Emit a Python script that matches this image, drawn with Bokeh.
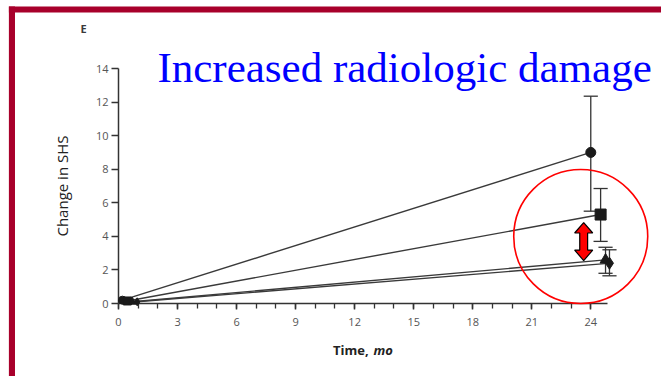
from bokeh.plotting import figure
from bokeh.models import ColumnDataSource, FixedTicker, Range1d
from bokeh.core.properties import value
from bokeh.embed import file_html
from bokeh.resources import INLINE

# ---------------- data ----------------
markers = ["circle", "square", "triangle", "diamond"]
marker_sizes = [10, 11, 11, 12]
start_month = [0.2, 0.45, 0.7, 0.95]
start_change = [0.2, 0.15, 0.1, 0.1]
end_month = [24.0, 24.5, 24.75, 24.95]
end_change = [9.0, 5.3, 2.6, 2.4]
end_lower = [5.5, 3.7, 1.8, 1.65]
end_upper = [12.35, 6.85, 3.35, 3.2]

x_ticks = [0, 3, 6, 9, 12, 15, 18, 21, 24]
x_minor = list(range(0, 25))
y_ticks = [0, 2, 4, 6, 8, 10, 12, 14]

title_text = "Increased radiologic damage"
panel_letter = "E"
y_label = "Change in SHS"
x_label_main = "Time,"
x_label_unit = "mo"

# annotation geometry (data units)
CAP_HALF = 0.36
RING_X, RING_Y, RING_R_PX = 23.49, 3.99, 67
ARROW_X, ARROW_TOP, ARROW_BOT = 23.64, 4.82, 2.56
ARROW_HEAD_HW, ARROW_SHAFT_HW, ARROW_HEAD_LEN = 0.46, 0.2, 0.62
TITLE_X, TITLE_Y = 1.98, 14.05
LETTER_X, LETTER_Y = -1.93, 16.4
XLAB_X, XLAB_Y = 12.71, -2.77
BORDER_L, BORDER_R = -5.57, -5.26
BORDER_B, BORDER_T, BORDER_T2 = -5.0, 17.69, 17.33

BORDER = "#A8002B"
INK = "#222222"
MARK = "#1a1a1a"
STEM = "#333333"

p = figure(width=661, height=376, output_backend="svg", toolbar_location=None,
           x_range=Range1d(0, 24.85), y_range=Range1d(0, 14),
           min_border_left=118, min_border_bottom=73, min_border_top=68,
           min_border_right=54)
p.outline_line_color = None
p.grid.visible = False
p.background_fill_color = "white"
p.border_fill_color = "white"

# axes
for ax in (p.xaxis, p.yaxis):
    ax.axis_line_color = "#333333"
    ax.axis_line_width = 1.5
    ax.major_tick_line_color = "#333333"
    ax.major_tick_line_width = 1.5
    ax.minor_tick_line_color = "#333333"
    ax.minor_tick_line_width = 1.3
    ax.major_tick_in = 0
    ax.minor_tick_in = 0
    ax.major_label_text_font = "Open Sans"
    ax.major_label_text_font_size = "11px"
    ax.major_label_text_color = "#555555"

p.xaxis.ticker = FixedTicker(ticks=x_ticks, minor_ticks=x_minor)
p.xaxis.major_tick_out = 6
p.xaxis.minor_tick_out = 5
p.xaxis.major_label_standoff = 8

p.yaxis.ticker = FixedTicker(ticks=y_ticks)
p.yaxis.major_tick_out = 7
p.yaxis.minor_tick_line_color = None
p.yaxis.major_label_standoff = 3
p.yaxis.axis_label = y_label
p.yaxis.axis_label_text_font = "Open Sans"
p.yaxis.axis_label_text_font_size = "15px"
p.yaxis.axis_label_text_font_style = "normal"
p.yaxis.axis_label_text_color = INK
p.yaxis.axis_label_standoff = 21

# connecting lines
p.segment(x0=start_month, y0=start_change, x1=end_month, y1=end_change,
          line_color="#3a3a3a", line_width=1.4)

# error bars (stem + caps), drawn unclipped
err = ColumnDataSource(dict(
    x=end_month, lo=end_lower, hi=end_upper,
    xl=[m - CAP_HALF for m in end_month], xr=[m + CAP_HALF for m in end_month]))
for r in (
    p.segment(x0="x", y0="lo", x1="x", y1="hi", source=err, line_color=STEM, line_width=1.3),
    p.segment(x0="xl", y0="hi", x1="xr", y1="hi", source=err, line_color=STEM, line_width=1.3),
    p.segment(x0="xl", y0="lo", x1="xr", y1="lo", source=err, line_color=STEM, line_width=1.3),
):
    r.level = "overlay"

# markers
src_end = ColumnDataSource(dict(x=end_month, y=end_change, m=markers, s=marker_sizes))
r_end = p.scatter(x="x", y="y", marker="m", size="s", source=src_end,
                  fill_color=MARK, line_color=MARK)
r_end.level = "overlay"
src_start = ColumnDataSource(dict(x=start_month, y=start_change, m=markers))
r_start = p.scatter(x="x", y="y", marker="m", size=8, source=src_start,
                    fill_color=MARK, line_color=MARK)
r_start.level = "overlay"

# red ring
ring = p.circle(x=[RING_X], y=[RING_Y], radius=RING_R_PX, radius_units="screen",
                fill_color=None, line_color="#FF0000", line_width=1.6)
ring.level = "overlay"

# double arrow
ax_ = ARROW_X
xs = [ax_, ax_ + ARROW_HEAD_HW, ax_ + ARROW_SHAFT_HW, ax_ + ARROW_SHAFT_HW,
      ax_ + ARROW_HEAD_HW, ax_, ax_ - ARROW_HEAD_HW, ax_ - ARROW_SHAFT_HW,
      ax_ - ARROW_SHAFT_HW, ax_ - ARROW_HEAD_HW]
ys = [ARROW_TOP, ARROW_TOP - ARROW_HEAD_LEN, ARROW_TOP - ARROW_HEAD_LEN,
      ARROW_BOT + ARROW_HEAD_LEN, ARROW_BOT + ARROW_HEAD_LEN, ARROW_BOT,
      ARROW_BOT + ARROW_HEAD_LEN, ARROW_BOT + ARROW_HEAD_LEN,
      ARROW_TOP - ARROW_HEAD_LEN, ARROW_TOP - ARROW_HEAD_LEN]
arrow = p.patch(xs, ys, fill_color="#FF0000", line_color="#000000", line_width=1.2)
arrow.level = "overlay"

# texts
texts = [
    p.text(x=[TITLE_X], y=[TITLE_Y], text=[title_text], text_font=value("Liberation Serif"),
           text_font_size="43px", text_color="#0000FF", text_baseline="alphabetic"),
    p.text(x=[LETTER_X], y=[LETTER_Y], text=[panel_letter], text_font=value("Open Sans"),
           text_font_size="11px", text_font_style="bold",
           text_color="#3a3a3a", text_baseline="alphabetic"),
    p.text(x=[XLAB_X], y=[XLAB_Y], text=[x_label_main], text_font=value("Open Sans"),
           text_font_size="13px", text_font_style="bold", text_color=INK,
           text_align="right", text_baseline="alphabetic"),
    p.text(x=[XLAB_X + 0.25], y=[XLAB_Y], text=[x_label_unit], text_font=value("Open Sans"),
           text_font_size="13px", text_font_style="bold italic",
           text_color=INK, text_align="left", text_baseline="alphabetic"),
]
for t in texts:
    t.level = "overlay"

# slide frame (dark red border on left and top)
frame_q = p.quad(left=[BORDER_L, BORDER_L], right=[BORDER_R, 40.0],
                 bottom=[BORDER_B, BORDER_T2], top=[BORDER_T, BORDER_T],
                 fill_color=BORDER, line_color=None)
frame_q.level = "overlay"

open("out.html", "w").write(file_html(p, INLINE))
